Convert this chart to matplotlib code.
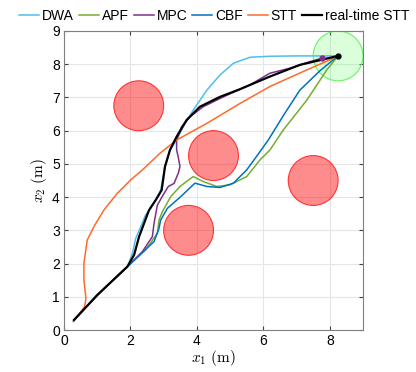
import numpy as np
import matplotlib.pyplot as plt
from matplotlib.patches import Circle

plt.rcParams['font.family'] = ['Liberation Sans', 'DejaVu Sans']
plt.rcParams['mathtext.fontset'] = 'cm'

# obstacles (x, y, r) and goal region
obs_x = [2.25, 4.5, 3.75, 7.5]
obs_y = [6.75, 5.25, 3.0, 4.5]
obs_r = [0.75, 0.75, 0.75, 0.75]
goal = (8.25, 8.25, 0.75)

# trajectories
dwa_x = [0.3, 1.0, 1.91, 2.06, 2.16, 2.31, 2.45, 2.6, 2.76, 2.91, 3.04, 3.19, 3.39, 3.59, 3.89, 4.30,
         4.70, 5.10, 5.60, 6.20, 7.0, 7.8, 8.25]
dwa_y = [0.3, 1.05, 1.91, 2.31, 2.76, 3.11, 3.45, 3.65, 3.91, 4.21, 4.92, 5.42, 5.72, 6.12, 6.62, 7.22,
         7.68, 8.03, 8.21, 8.24, 8.25, 8.25, 8.25]

apf_x = [0.3, 1.0, 1.91, 2.45, 2.81, 2.86, 2.96, 3.21, 3.49, 3.61, 3.89, 4.19, 4.60, 5.00, 5.50, 5.90,
         6.20, 6.40, 6.60, 7.31, 7.91, 8.25]
apf_y = [0.3, 1.05, 1.91, 2.4, 2.91, 3.31, 3.56, 4.01, 4.32, 4.41, 4.62, 4.47, 4.32, 4.37, 4.62, 5.12,
         5.42, 5.72, 6.02, 6.92, 7.83, 8.25]

mpc_x = [0.3, 1.0, 1.91, 2.36, 2.56, 2.66, 2.71, 2.81, 3.01, 3.14, 3.31, 3.44, 3.49, 3.44, 3.39, 3.39,
         3.54, 3.79, 4.19, 4.80, 5.60, 6.20, 6.8, 7.41, 7.76]
mpc_y = [0.3, 1.05, 1.91, 2.36, 2.66, 2.81, 3.21, 3.76, 4.11, 4.32, 4.41, 4.72, 4.92, 5.2, 5.42, 5.72,
         6.12, 6.42, 6.72, 7.02, 7.38, 7.73, 7.88, 8.08, 8.18]

cbf_x = [0.3, 1.0, 1.91, 2.3, 2.71, 2.86, 2.91, 3.11, 3.51, 3.94, 4.30, 4.70, 5.10, 5.50, 5.85, 6.15,
         6.6, 7.10, 7.7, 8.25]
cbf_y = [0.3, 1.05, 1.91, 2.28, 2.66, 3.06, 3.31, 3.66, 4.01, 4.42, 4.32, 4.29, 4.42, 4.82, 5.3, 5.72,
         6.45, 7.22, 7.8, 8.25]

stt_x = [0.28, 0.62, 0.66, 0.60, 0.60, 0.70, 0.90, 1.20, 1.60, 2.01, 2.36, 2.89, 3.39, 4.30, 5.30,
         6.20, 7.2, 8.11]
stt_y = [0.25, 0.70, 0.95, 1.51, 2.01, 2.71, 3.11, 3.61, 4.11, 4.52, 4.82, 5.32, 5.72, 6.22, 6.82,
         7.33, 7.78, 8.18]

rt_x = [0.3, 1.0, 1.91, 2.11, 2.26, 2.41, 2.56, 2.76, 2.94, 3.04, 3.19, 3.39, 3.69, 4.09, 4.70, 5.30,
        6.20, 7.10, 8.25]
rt_y = [0.3, 1.05, 1.91, 2.26, 2.81, 3.21, 3.61, 3.91, 4.21, 4.92, 5.42, 5.82, 6.32, 6.72, 7.02, 7.25,
        7.63, 7.98, 8.25]

fig = plt.figure(figsize=(4.16, 3.72), dpi=100)
ax = fig.add_axes([64 / 416, 42 / 372, 299 / 416, 299 / 372])

for x, y, r in zip(obs_x, obs_y, obs_r):
    ax.add_patch(Circle((x, y), r, facecolor=(1, 0, 0, 0.45), edgecolor=(1, 0.2, 0.2), lw=0.8, zorder=2))
ax.add_patch(Circle(goal[:2], goal[2], facecolor=(0.3, 1, 0.3, 0.2), edgecolor=(0.4, 0.95, 0.4), lw=0.8, zorder=2))

ax.plot(dwa_x, dwa_y, color='#4DBEEE', lw=1.1, label='DWA', zorder=3)
ax.plot(apf_x, apf_y, color='#77AC30', lw=1.1, label='APF', zorder=3)
ax.plot(mpc_x, mpc_y, color='#7E2F8E', lw=1.1, label='MPC', zorder=3)
ax.plot(cbf_x, cbf_y, color='#0072BD', lw=1.1, label='CBF', zorder=3)
ax.plot(stt_x, stt_y, color='#FF6A2B', lw=1.1, label='STT', zorder=3)
ax.plot(rt_x, rt_y, color='black', lw=1.6, label='real-time STT', zorder=4)
ax.plot(mpc_x[-1], mpc_y[-1], 'o', color='#7E2F8E', ms=3.5, zorder=4)
ax.plot(rt_x[-1], rt_y[-1], 'o', color='black', ms=3.5, zorder=5)

ax.set_xlim(0, 9)
ax.set_ylim(0, 9)
ax.set_xticks([0, 2, 4, 6, 8])
ax.set_yticks(range(10))
ax.grid(True, color='#e6e6e6', lw=0.8)
ax.set_axisbelow(True)
ax.tick_params(direction='in', length=3, color='#404040', labelsize=10, top=True, right=True,
               labeltop=False, labelright=False, pad=3)
for s in ax.spines.values():
    s.set_color('#808080')
ax.set_xlabel(r'$x_1\ \mathrm{(m)}$', fontsize=11, labelpad=0)
ax.set_ylabel(r'$x_2\ \mathrm{(m)}$', fontsize=11, labelpad=2)

fig.legend(loc='upper center', bbox_to_anchor=(0.515, 1.0), ncol=6, frameon=False, fontsize=10,
           handlelength=1.45, handletextpad=0.2, columnspacing=0.35, borderaxespad=0.25)

fig.savefig('out.png', dpi=100)
